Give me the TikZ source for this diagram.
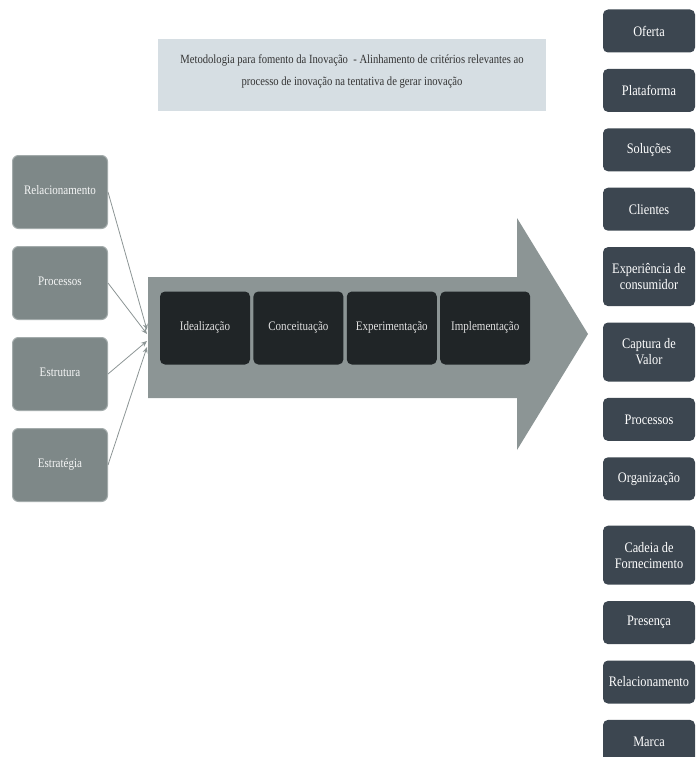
\documentclass[tikz,border=0pt]{standalone}
\usepackage{fontspec}
\setmainfont[FakeStretch=0.85]{Liberation Serif}
\usetikzlibrary{positioning,arrows.meta}
\definecolor{leftgray}{HTML}{7E8888}
\definecolor{leftline}{HTML}{A3ABAB}
\definecolor{arrowgray}{HTML}{8C9595}
\definecolor{stagedark}{HTML}{202527}
\definecolor{rightdark}{HTML}{3C4650}
\definecolor{titlebg}{HTML}{D6DEE3}
\begin{document}
\begin{tikzpicture}[x=1pt, y=-1pt, node distance={16pt},
		leftbox/.style = {draw=leftline, line width=1pt, fill=leftgray, rounded corners=6pt, minimum width=95pt, minimum height=73pt, text height=1.6ex, text depth=.5ex, text=white!92!leftgray, font=\fontsize{13}{14}\selectfont},
		stage/.style = {fill=stagedark, rounded corners=5pt, minimum width=90pt, minimum height=73pt, text height=1.6ex, text depth=.5ex, text=white!88!black, font=\fontsize{13}{14}\selectfont},
		rightbox/.style = {fill=rightdark, rounded corners=5pt, minimum width=92pt, minimum height=43pt, inner xsep=1pt, text=white, align=center, font=\fontsize{14.5}{16}\selectfont},
		tall/.style = {minimum height=59pt},
		feed/.style = {draw=arrowgray, line width=0.8pt, -{Stealth[length=6pt,width=5pt]}}]
	\useasboundingbox (0,0) rectangle (697,757);
	% titulo
	\node[fill=titlebg, minimum width=388pt, minimum height=72pt, align=center, text=black!80, font=\fontsize{12.5}{22}\selectfont] (title) at (352,75) {Metodologia para fomento da Inovação \ - Alinhamento de critérios relevantes ao\\ processo de inovação na tentativa de gerar inovação\\[-12pt]};
	% seta grande
	\fill[arrowgray] (148,277) -- (517,277) -- (517,218) -- (588,334) -- (517,450) -- (517,398) -- (148,398) -- cycle;
	\coordinate (in1) at (147,330);
	\coordinate (in2) at (147,334);
	\coordinate (in3) at (147,341);
	\coordinate (in4) at (147,347);
	% etapas
	\node[stage] (idea) at (205,328) {Idealização};
	\node[stage] (conc) [right=3pt of idea] {Conceituação};
	\node[stage] (expe) [right=3pt of conc] {Experimentação};
	\node[stage] (impl) [right=3pt of expe] {Implementação};
	% lado esquerdo
	\node[leftbox] (rel) at (60,192) {Relacionamento};
	\node[leftbox] (proc) [below=17pt of rel] {Processos};
	\node[leftbox] (estr) [below=17pt of proc] {Estrutura};
	\node[leftbox] (estg) [below=17pt of estr] {Estratégia};
	\draw[feed] (rel.east) -- (in1);
	\draw[feed] (proc.east) -- (in2);
	\draw[feed] (estr.east) -- (in3);
	\draw[feed] (estg.east) -- (in4);
	% lado direito
	\node[rightbox] (of) at (649,31) {Oferta};
	\node[rightbox] (plat) [below=of of] {Plataforma};
	\node[rightbox] (sol) [below=of plat] {Soluções};
	\node[rightbox] (cli) [below=of sol] {Clientes};
	\node[rightbox, tall] (exp) [below=of cli] {Experiência de\\ consumidor};
	\node[rightbox, tall] (cap) [below=of exp] {Captura de\\ Valor};
	\node[rightbox] (pro) [below=of cap] {Processos};
	\node[rightbox] (org) [below=of pro] {Organização};
	\node[rightbox, tall] (cad) [below=25pt of org] {Cadeia de\\ Fornecimento};
	\node[rightbox] (pres) [below=of cad] {Presença};
	\node[rightbox] (rela) [below=of pres] {Relacionamento};
	\node[rightbox] (mar) [below=of rela] {Marca};
\end{tikzpicture}
\end{document}
